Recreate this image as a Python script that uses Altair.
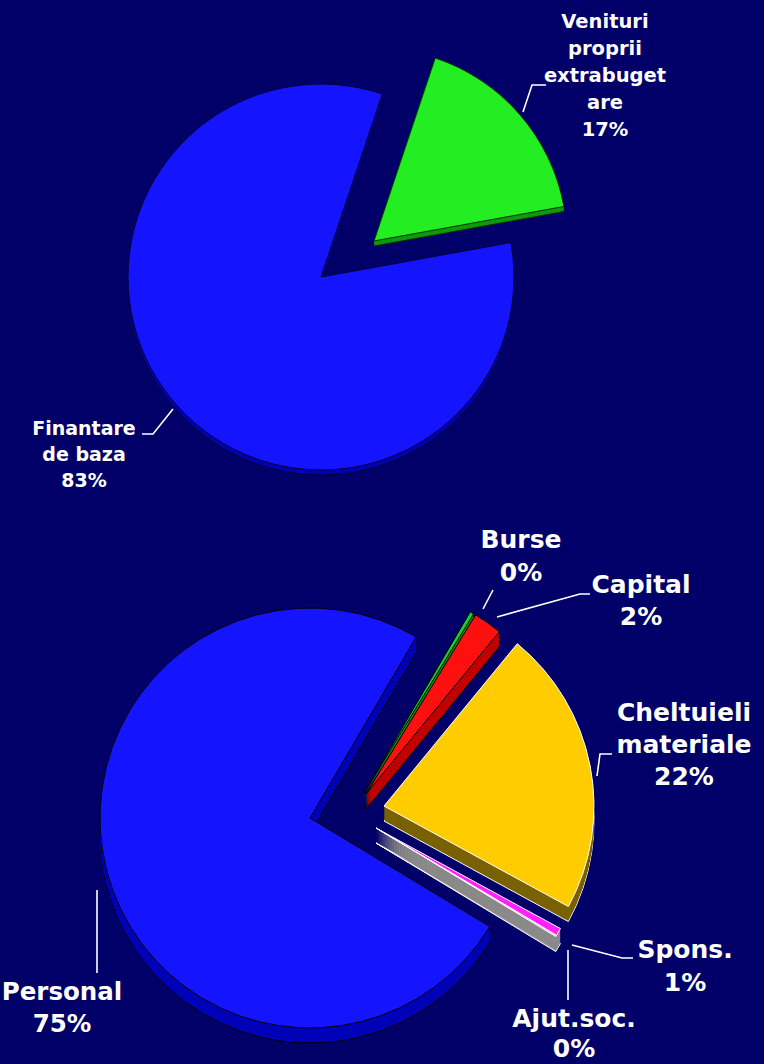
import math
import altair as alt
import pandas as pd

# ---------------- data ----------------
top_cats = ["Venituri proprii extrabugetare", "Finantare de baza"]
top_vals = [17, 83]
top_fill = ["#22ee22", "#1414ff"]
top_side = ["#0f9a0f", "#0000b0"]
top_stroke = ["#003300", "#000033"]

bot_cats = ["Burse", "Capital", "Cheltuieli materiale", "Spons.", "Ajut.soc.", "Personal"]
bot_vals = [0.3, 2.2, 22.0, 0.6, 0.1, 74.8]
bot_fill = ["#22cc22", "#ff1010", "#ffcc00", "#ff22ff", "#a8a8a8", "#1414ff"]
bot_side = ["#118811", "#c00000", "#7a6200", "#8a8a8a", "#8a8a8a", "#0000b8"]
bot_stroke = ["#000000", "#000000", "#ffffff", "#ffffff", "#ffffff", "#000000"]

# label text lines (as printed on the chart)
top_labels = [["Venituri", "proprii", "extrabuget", "are", "17%"],
              ["Finantare", "de baza", "83%"]]
bot_labels = [["Burse", "0%"], ["Capital", "2%"], ["Cheltuieli", "materiale", "22%"],
              ["Spons.", "1%"], ["Ajut.soc.", "0%"], ["Personal", "75%"]]

# ---------------- layout ----------------
W, H = 764, 1064
TOP = dict(cx=321, cy=277, r=193, start=18.5, depth=5)
BOT = dict(cx=310, cy=818, r=210, start=30.4, depth=15)
# explosion offsets of the slices (dx, dy) in pixels
top_offsets = [(53, -36), (0, 0)]
bot_offsets = [(54, -25), (56, -24), (74, -12), (66, 10), (66, 10), (0, 0)]

top_label_pos = [(605, 22, 19.5, 27), (84, 429, 19, 26)]   # x, first-line y, font size, line height
bot_label_pos = [(521, 540, 25, 33), (641, 585, 25, 32), (684, 713, 25, 32),
                 (685, 950, 25, 33), (574, 1019, 25, 30), (62, 993, 24.5, 32)]

leaders = [
    [(523, 112), (532, 85), (546, 85)],
    [(173, 409), (153, 434), (142, 434)],
    [(483, 609), (493, 590)],
    [(497, 617), (580, 594), (590, 594)],
    [(597, 776), (600, 754), (612, 754)],
    [(572, 945), (622, 958), (633, 958)],
    [(568, 950), (568, 1000)],
    [(97, 890), (97, 973)],
]

# let the navy background fill the whole page
try:
    import altair.utils.html as _ah
    _tpl = _ah.TEMPLATES["standard"]
    _orig_render = _tpl.render

    def _render(*a, **k):
        return _orig_render(*a, **k).replace(
            "<style>", "<style>\n  html, body { margin: 0; padding: 0; background: #000068; }", 1)

    _tpl.render = _render
except Exception:
    pass


def pie_rows(vals, fill, side, stroke, offsets, g):
    total = float(sum(vals))
    a = math.radians(g["start"])
    tops, sides = [], []
    for v, f, s, st, (dx, dy) in zip(vals, fill, side, stroke, offsets):
        t0 = a
        t1 = a + 2 * math.pi * v / total
        a = t1
        x = g["cx"] + dx
        y = g["cy"] + dy
        tops.append(dict(x=x, y=y, t0=t0, t1=t1, r=g["r"], fill=f, stroke=st, sw=1.0))
        for k in range(g["depth"], 0, -1):
            deepest = k == g["depth"]
            sides.append(dict(x=x, y=y + k, t0=t0, t1=t1, r=g["r"], fill=s,
                              stroke=st if deepest else s,
                              sw=1.0 if deepest else 0.0, k=k))
    return tops, sides


t_top, t_side = pie_rows(top_vals, top_fill, top_side, top_stroke, top_offsets, TOP)
b_top, b_side = pie_rows(bot_vals, bot_fill, bot_side, bot_stroke, bot_offsets, BOT)

side_df = pd.DataFrame(t_side + b_side).sort_values("k", ascending=False, kind="stable")
top_df = pd.DataFrame(t_top + b_top)

label_rows = []
for lines, (lx, ly, fs, lh) in list(zip(top_labels, top_label_pos)) + list(zip(bot_labels, bot_label_pos)):
    for i, t in enumerate(lines):
        label_rows.append(dict(x=lx, y=ly + i * lh, text=t, fs=fs))
label_df = pd.DataFrame(label_rows)

lead_rows = []
for j, pts in enumerate(leaders):
    for i, (px, py) in enumerate(pts):
        lead_rows.append(dict(id=j, k=i, x=px, y=py))
lead_df = pd.DataFrame(lead_rows)

xs = alt.Scale(domain=[0, W], range=[0, W])
ys = alt.Scale(domain=[0, H], range=[0, H])


def arc_layer(df):
    return alt.Chart(df).mark_arc().encode(
        x=alt.X("x:Q", scale=xs, axis=None),
        y=alt.Y("y:Q", scale=ys, axis=None),
        theta=alt.Theta("t0:Q", scale=None, stack=False),
        theta2=alt.Theta2("t1:Q"),
        radius=alt.Radius("r:Q", scale=None),
        fill=alt.Fill("fill:N", scale=None),
        stroke=alt.Stroke("stroke:N", scale=None),
        strokeWidth=alt.StrokeWidth("sw:Q", scale=None),
    )


sides = arc_layer(side_df)
tops = arc_layer(top_df)

lines = alt.Chart(lead_df).mark_line(color="white", strokeWidth=1.6).encode(
    x=alt.X("x:Q", scale=xs, axis=None),
    y=alt.Y("y:Q", scale=ys, axis=None),
    detail="id:N",
    order="k:Q",
)

labels = alt.Chart(label_df).mark_text(
    font="DejaVu Sans", fontWeight="bold", color="white", align="center", baseline="middle"
).encode(
    x=alt.X("x:Q", scale=xs, axis=None),
    y=alt.Y("y:Q", scale=ys, axis=None),
    text="text:N",
    size=alt.Size("fs:Q", scale=None),
)

chart = alt.layer(sides, tops, lines, labels).properties(
    width=W, height=H, padding=0, background="#000068",
    autosize=alt.AutoSizeParams(type="none"),
).configure_view(stroke=None)

chart.save("out.html", embed_options={"renderer": "svg", "actions": False})
